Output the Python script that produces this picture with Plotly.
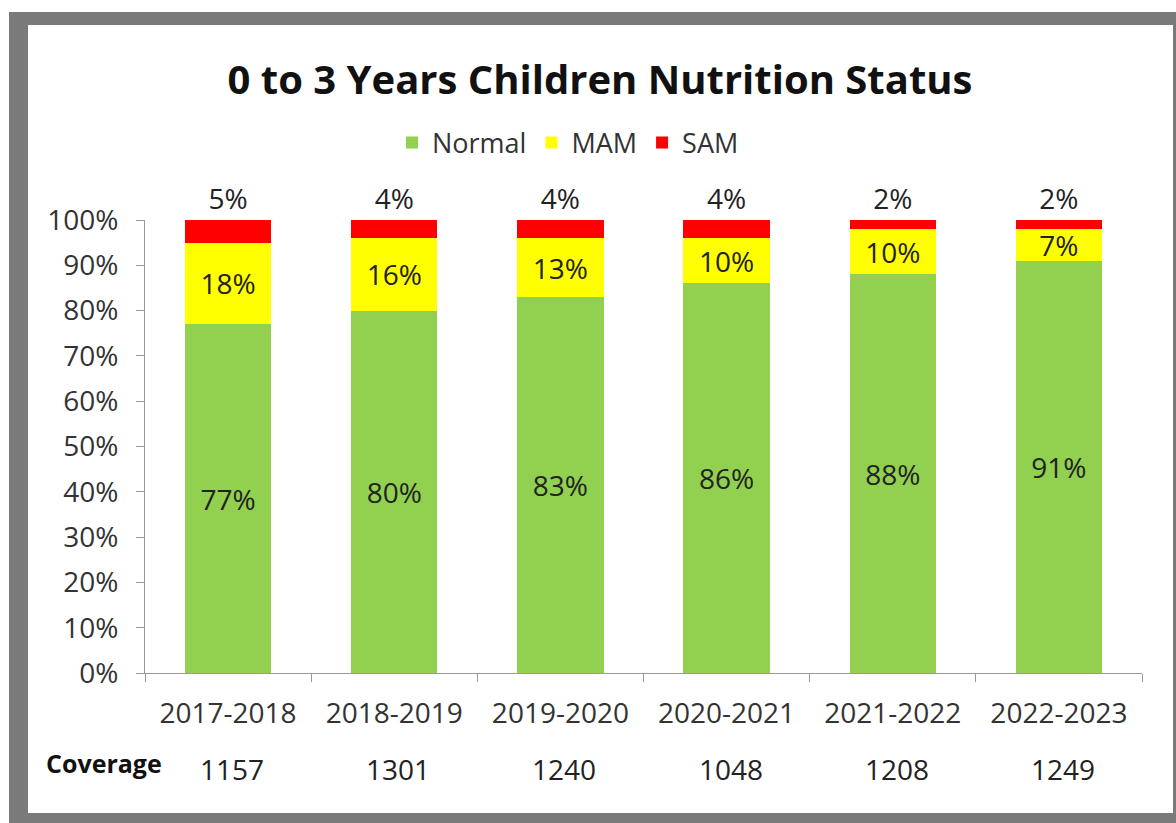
import plotly.graph_objects as go

years = ["2017-2018", "2018-2019", "2019-2020", "2020-2021", "2021-2022", "2022-2023"]
normal = [77, 80, 83, 86, 88, 91]
mam = [18, 16, 13, 10, 10, 7]
sam = [5, 4, 4, 4, 2, 2]
coverage = [1157, 1301, 1240, 1048, 1208, 1249]

W, H = 1176, 823
# plot area in pixels
L, R, T, B = 145, 1142, 220, 673
FONT = "Open Sans"


def px(x):
    return (x - L) / (R - L)


def py(y):
    return (B - y) / (B - T)


fig = go.Figure()
series = [
    ("Normal", normal, "#92D050", "inside"),
    ("MAM", mam, "#FFFF00", "inside"),
    ("SAM", sam, "#FF0000", "outside"),
]
for name, vals, color, pos in series:
    fig.add_trace(go.Bar(
        name=name,
        x=years,
        y=[v / 100 for v in vals],
        marker=dict(color=color, line=dict(width=0)),
        text=[f"{v}%" for v in vals],
        textposition=pos,
        insidetextanchor="middle",
        constraintext="none",
        textangle=0,
        textfont=dict(family=FONT, size=28, color="#222222"),
        cliponaxis=False,
    ))

# grey frame around the chart
fig.add_shape(type="rect", xref="paper", yref="paper", layer="below",
              x0=px(9), x1=px(W + 5), y0=py(12), y1=py(H + 5),
              fillcolor="#7a7a7a", line=dict(width=0))
fig.add_shape(type="rect", xref="paper", yref="paper", layer="below",
              x0=px(28), x1=px(1173), y0=py(25), y1=py(813),
              fillcolor="white", line=dict(width=0))

fig.add_annotation(text="<b>Coverage</b>", xref="paper", yref="paper",
                   x=px(104), y=py(763), xanchor="center", yanchor="middle",
                   showarrow=False, font=dict(family=FONT, size=25, color="#111111"))
for yr, c in zip(years, coverage):
    fig.add_annotation(text=str(c), xref="x", yref="paper", x=yr, y=py(769),
                       xanchor="center", yanchor="middle", xshift=4,
                       showarrow=False, font=dict(family=FONT, size=28, color="#222222"))

fig.update_layout(
    width=W, height=H,
    barmode="stack",
    bargap=0.48,
    margin=dict(l=L, r=W - R, t=T, b=H - B),
    paper_bgcolor="white",
    plot_bgcolor="rgba(0,0,0,0)",
    title=dict(text="<b>0 to 3 Years Children Nutrition Status</b>",
               x=600 / W, y=1 - 80 / H, xanchor="center", yanchor="middle",
               font=dict(family=FONT, size=40, color="#111111")),
    legend=dict(orientation="h", x=px(568), y=py(143), xanchor="center", yanchor="middle",
                traceorder="normal",
                font=dict(family=FONT, size=27, color="#333333"),
                itemwidth=30, tracegroupgap=0),
    font=dict(family=FONT, color="#333333"),
)
fig.update_xaxes(
    showline=True, linecolor="#999999", linewidth=1,
    ticks="outside", tickson="boundaries", ticklen=8, tickcolor="#999999",
    tickfont=dict(family=FONT, size=28, color="#333333"),
    ticklabelstandoff=15, showgrid=False,
)
fig.update_yaxes(
    range=[0, 1], tickformat=".0%", dtick=0.1,
    showline=True, linecolor="#999999", linewidth=1,
    ticks="outside", ticklen=8, tickcolor="#999999",
    tickfont=dict(family=FONT, size=28, color="#333333"),
    ticklabelstandoff=12, showgrid=False, zeroline=False,
)

fig.write_html("out.html", config={"displayModeBar": False},
               post_script="document.body.style.margin='0';")
